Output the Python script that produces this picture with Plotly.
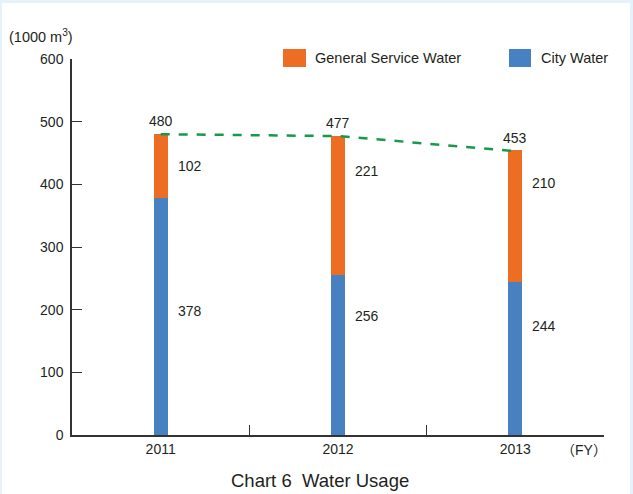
import plotly.graph_objects as go

years = ["2011", "2012", "2013"]
city_water = [378, 256, 244]
general_water = [102, 221, 210]
totals = [480, 477, 453]
y_ticks = [0, 100, 200, 300, 400, 500, 600]

# label placement (layout only)
general_label_y = [429, 421, 402]
city_label_y = [198, 190, 174]

ORANGE = "#ed6e22"
BLUE = "#4881c2"
GREEN = "#17994a"
TXT = "#231f20"
FONT = "Liberation Sans, Arial, Noto Sans CJK JP, sans-serif"

xs = list(range(len(years)))

fig = go.Figure()
fig.add_trace(go.Bar(x=xs, y=city_water, name="City Water", marker_color=BLUE,
                     marker_line_width=0, width=0.08))
fig.add_trace(go.Bar(x=xs, y=general_water, name="General Service Water", marker_color=ORANGE,
                     marker_line_width=0, width=0.08))
fig.add_trace(go.Scatter(x=xs, y=totals, mode="lines", line=dict(color=GREEN, width=2.5, dash="dash"),
                         showlegend=False, hoverinfo="skip"))

ann = []
for i in xs:
    ann.append(dict(x=i, y=totals[i], text=str(totals[i]), showarrow=False, yanchor="bottom",
                    yshift=3, font=dict(size=14, color=TXT)))
    ann.append(dict(x=i + 0.085, y=general_label_y[i], text=str(general_water[i]), showarrow=False,
                    xanchor="left", yanchor="middle", font=dict(size=14, color=TXT)))
    ann.append(dict(x=i + 0.085, y=city_label_y[i], text=str(city_water[i]), showarrow=False,
                    xanchor="left", yanchor="middle", font=dict(size=14, color=TXT)))

ann += [
    dict(xref="paper", yref="paper", x=-0.122, y=1.06, text="(1000 m<sup>3</sup>)", showarrow=False,
         xanchor="left", yanchor="middle", font=dict(size=14.5, color=TXT)),
    dict(xref="paper", yref="paper", x=0.962, y=-0.04, text="（FY）", showarrow=False,
         xanchor="center", yanchor="middle", font=dict(size=14, color=TXT)),
    dict(xref="paper", yref="paper", x=0.466, y=-0.122, text="Chart 6\u00a0 Water Usage", showarrow=False,
         xanchor="center", yanchor="middle", font=dict(size=18.5, color=TXT)),
    dict(xref="paper", yref="paper", x=0.453, y=1.0027, text="General Service Water", showarrow=False,
         xanchor="left", yanchor="middle", font=dict(size=14.5, color=TXT)),
    dict(xref="paper", yref="paper", x=0.8778, y=1.0027, text="City Water", showarrow=False,
         xanchor="left", yanchor="middle", font=dict(size=14.5, color=TXT)),
]

shapes = [
    dict(type="rect", xref="paper", yref="paper", x0=0.3966, x1=0.4398, y0=0.9787, y1=1.0266,
         fillcolor=ORANGE, line_width=0),
    dict(type="rect", xref="paper", yref="paper", x0=0.8214, x1=0.8628, y0=0.9787, y1=1.0266,
         fillcolor=BLUE, line_width=0),
    # light blue frame
    dict(type="rect", xref="paper", yref="paper", x0=-72/532, x1=561/532, y0=1 + 56/376, y1=1 + 59/376,
         fillcolor="#e6f2fb", line_width=0, layer="below"),
    dict(type="rect", xref="paper", yref="paper", x0=-72/532, x1=-70/532, y0=-59/376, y1=1 + 59/376,
         fillcolor="#e6f2fb", line_width=0, layer="below"),
    dict(type="rect", xref="paper", yref="paper", x0=558/532, x1=561/532, y0=-59/376, y1=1 + 59/376,
         fillcolor="#e6f2fb", line_width=0, layer="below"),
]

fig.update_layout(
    width=633, height=494,
    margin=dict(l=72, r=29, t=59, b=59),
    barmode="stack",
    showlegend=False,
    paper_bgcolor="white", plot_bgcolor="white",
    font=dict(family=FONT, size=14, color=TXT),
    annotations=ann, shapes=shapes,
    xaxis=dict(range=[-0.5, 2.5], tickvals=xs, ticktext=years, ticks="", showgrid=False,
               zeroline=False, showline=True, linecolor="#333333", linewidth=1.5,
               tickfont=dict(size=14, color=TXT), fixedrange=True),
    xaxis2=dict(range=[-0.5, 2.5], overlaying="x", side="bottom", anchor="y",
                tickvals=[0.5, 1.5, 2.5], showticklabels=False, ticks="inside", ticklen=10,
                tickwidth=1.2, tickcolor="#333333", showgrid=False, zeroline=False, showline=False),
    yaxis=dict(range=[0, 600], tickvals=y_ticks, ticks="inside", ticklen=10, tickwidth=1.2,
               tickcolor="#333333", showgrid=False, zeroline=False, showline=True,
               linecolor="#333333", linewidth=1.5, tickfont=dict(size=14, color=TXT),
               ticklabelstandoff=4),
)
fig.add_trace(go.Scatter(x=[None], y=[None], xaxis="x2", showlegend=False, hoverinfo="skip"))

fig.write_html("out.html", config={"displayModeBar": False},
               post_script="document.body.style.margin='0';document.body.style.overflow='hidden';")
